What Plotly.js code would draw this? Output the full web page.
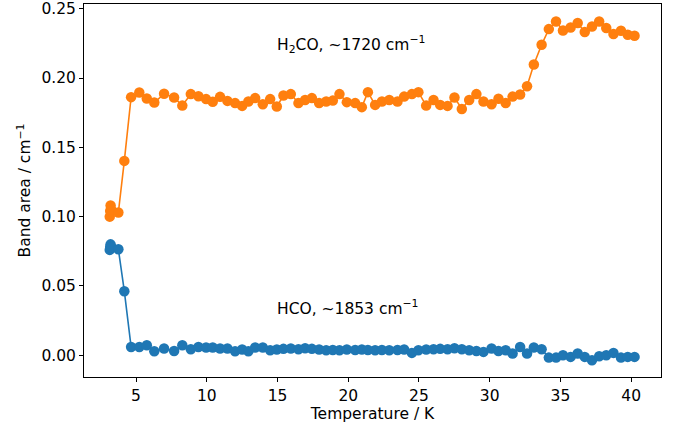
<!DOCTYPE html>
<html>
<head>
<meta charset="utf-8">
<script src="https://cdn.plot.ly/plotly-3.0.1.min.js"></script>
<style>html,body{margin:0;padding:0;background:#fff;}#chart{width:680px;height:427px;}</style>
</head>
<body>
<div id="chart"></div>
<script>
// Temperature (K)
const temperature = [3.14, 3.17, 3.20, 3.25, 3.75, 4.17, 4.65, 5.23, 5.76, 6.29, 6.98, 7.69, 8.27, 8.87, 9.41, 9.95,
  10.42, 10.94, 11.46, 12.00, 12.50, 12.94, 13.42, 13.96, 14.48, 14.95, 15.42, 15.94, 16.48, 16.95, 17.43, 17.94,
  18.44, 18.91, 19.38, 19.90, 20.49, 20.96, 21.39, 21.90, 22.38, 22.90, 23.48, 23.95, 24.50, 24.96, 25.51, 26.03,
  26.50, 27.02, 27.51, 28.03, 28.55, 29.06, 29.56, 30.13, 30.62, 31.13, 31.62, 32.15, 32.64, 33.12, 33.67, 34.18,
  34.69, 35.18, 35.72, 36.22, 36.72, 37.23, 37.74, 38.24, 38.75, 39.28, 39.76, 40.24];

// H2CO band area (~1720 cm-1)
const h2co = [0.100, 0.104, 0.108, 0.105, 0.103, 0.1402, 0.1862, 0.1895, 0.1852, 0.1823, 0.1886, 0.1859, 0.1801, 0.1884, 0.1869, 0.1848,
  0.1828, 0.1864, 0.1835, 0.1819, 0.1799, 0.1830, 0.1855, 0.1811, 0.1848, 0.1794, 0.1874, 0.1884, 0.1819, 0.1842, 0.1855, 0.1819,
  0.1830, 0.1837, 0.1884, 0.1826, 0.1819, 0.1790, 0.1898, 0.1806, 0.1830, 0.1842, 0.1830, 0.1866, 0.1884, 0.1898, 0.1801, 0.1842,
  0.1806, 0.1799, 0.1859, 0.1777, 0.1842, 0.1884, 0.1830, 0.1811, 0.1850, 0.1819, 0.1866, 0.1881, 0.1941, 0.2098, 0.2240, 0.2353,
  0.2408, 0.2343, 0.2365, 0.2397, 0.2332, 0.2372, 0.2408, 0.2361, 0.2317, 0.2341, 0.2312, 0.2305];

// HCO band area (~1853 cm-1)
const hco = [0.076, 0.078, 0.080, 0.078, 0.0765, 0.0462, 0.0060, 0.0060, 0.0072, 0.0029, 0.0048, 0.0031, 0.0072, 0.0043, 0.0060, 0.0056,
  0.0056, 0.0048, 0.0048, 0.0029, 0.0041, 0.0029, 0.0056, 0.0056, 0.0036, 0.0041, 0.0046, 0.0048, 0.0043, 0.0050, 0.0046, 0.0041,
  0.0036, 0.0038, 0.0036, 0.0041, 0.0038, 0.0041, 0.0038, 0.0036, 0.0038, 0.0036, 0.0038, 0.0041, 0.0017, 0.0036, 0.0041, 0.0043,
  0.0046, 0.0043, 0.0050, 0.0043, 0.0036, 0.0031, 0.0024, 0.0048, 0.0031, 0.0036, 0.0012, 0.0060, 0.0012, 0.0056, 0.0043, -0.0017,
  -0.0017, 0.0000, -0.0012, 0.0012, -0.0012, -0.0036, -0.0007, 0.0000, 0.0017, -0.0017, -0.0012, -0.0012];

const xTicks = [5, 10, 15, 20, 25, 30, 35, 40];
const yTicks = [0.00, 0.05, 0.10, 0.15, 0.20, 0.25];
const labelH2CO = "H<sub>2</sub>CO, ~1720 cm<sup>−1</sup>";
const labelHCO = "HCO, ~1853 cm<sup>−1</sup>";

const font = {family: "DejaVu Sans", size: 15.5, color: "#000"};

const traces = [
  {x: temperature, y: hco, mode: "lines+markers", type: "scatter",
   line: {color: "#1f77b4", width: 1.6}, marker: {color: "#1f77b4", size: 10.5}},
  {x: temperature, y: h2co, mode: "lines+markers", type: "scatter",
   line: {color: "#ff7f0e", width: 1.6}, marker: {color: "#ff7f0e", size: 10.5}}
];

const axisCommon = {
  showgrid: false, zeroline: false, showline: true, mirror: true,
  linecolor: "#000", linewidth: 1, ticks: "outside", ticklen: 4, tickwidth: 1,
  tickcolor: "#000", tickfont: font
};

const layout = {
  width: 680, height: 427,
  margin: {l: 84, r: 19, t: 4, b: 50},
  paper_bgcolor: "#fff", plot_bgcolor: "#fff",
  showlegend: false,
  font: font,
  xaxis: Object.assign({}, axisCommon, {
    range: [1.32, 42.11], tickvals: xTicks, ticktext: xTicks.map(String),
    title: {text: "Temperature / K", font: font, standoff: 4}
  }),
  yaxis: Object.assign({}, axisCommon, {
    range: [-0.0157, 0.2534], tickvals: yTicks, ticktext: yTicks.map(v => v.toFixed(2)),
    title: {text: "Band area / cm<sup>−1</sup>", font: font, standoff: 6}
  }),
  annotations: [
    {x: 14.85, y: 0.2245, xref: "x", yref: "y", text: labelH2CO, showarrow: false,
     xanchor: "left", yanchor: "middle", font: font},
    {x: 14.85, y: 0.0345, xref: "x", yref: "y", text: labelHCO, showarrow: false,
     xanchor: "left", yanchor: "middle", font: font}
  ]
};

Plotly.newPlot("chart", traces, layout, {displayModeBar: false, staticPlot: true});
</script>
</body>
</html>
